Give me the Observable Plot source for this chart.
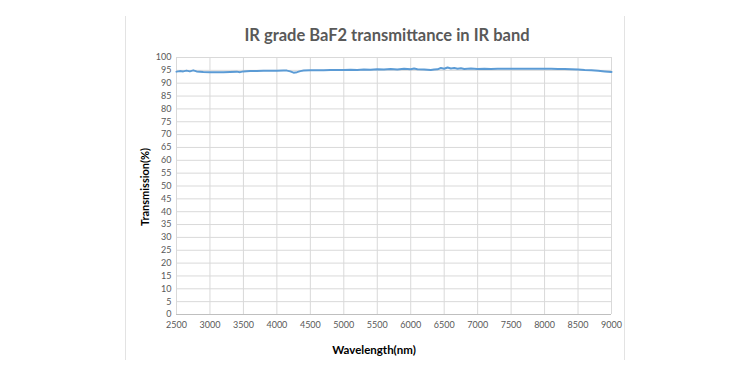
<!DOCTYPE html>
<html>
<head>
<meta charset="utf-8">
<script src="https://cdn.jsdelivr.net/npm/d3@7"></script>
<script src="https://cdn.jsdelivr.net/npm/@observablehq/plot@0.6"></script>
<style>
  html, body { margin: 0; padding: 0; background: #fff; }
  #chart { width: 750px; height: 375px; }
</style>
</head>
<body>
<div id="chart"></div>
<script>
const title = "IR grade BaF2 transmittance in IR band";
const xLabel = "Wavelength(nm)";
const yLabel = "Transmission(%)";

const xTicks = [2500, 3000, 3500, 4000, 4500, 5000, 5500, 6000, 6500, 7000, 7500, 8000, 8500, 9000];
const yTicks = [0, 5, 10, 15, 20, 25, 30, 35, 40, 45, 50, 55, 60, 65, 70, 75, 80, 85, 90, 95, 100];

const wavelength = [2500,2550,2600,2650,2700,2750,2800,2900,3000,3100,3200,3300,3400,3450,3500,3600,3700,3800,3900,4000,4100,4150,4200,4250,4300,4350,4400,4500,4600,4700,4800,4900,5000,5100,5200,5300,5400,5500,5600,5700,5800,5900,6000,6050,6100,6200,6300,6350,6400,6450,6500,6550,6600,6650,6700,6750,6800,6900,7000,7100,7200,7300,7400,7500,7600,7700,7800,7900,8000,8100,8200,8300,8400,8500,8600,8700,8800,8900,9000];
const transmission = [94.5,94.7,94.6,94.9,94.6,95.0,94.6,94.4,94.3,94.3,94.3,94.4,94.5,94.3,94.6,94.7,94.7,94.8,94.8,94.8,94.9,94.9,94.6,94.1,94.3,94.7,94.9,95.0,95.0,95.0,95.1,95.1,95.1,95.2,95.1,95.3,95.2,95.4,95.3,95.5,95.3,95.6,95.4,95.7,95.4,95.3,95.1,95.3,95.4,95.9,95.6,96.1,95.7,95.9,95.6,95.8,95.5,95.7,95.5,95.6,95.5,95.6,95.6,95.6,95.6,95.6,95.6,95.6,95.6,95.6,95.5,95.5,95.4,95.3,95.1,95.0,94.8,94.6,94.4];

const data = wavelength.map((w, i) => ({w, t: transmission[i]}));

const W = 750, H = 375;
const mL = 176, mR = 139, mT = 57, mB = 61;
const fontFam = "Lato, 'Open Sans', sans-serif";
const gray = "#595959";

const plot = Plot.plot({
  width: W, height: H,
  marginLeft: mL, marginRight: mR, marginTop: mT, marginBottom: mB,
  style: {fontFamily: fontFam, fontSize: "9px", color: gray, background: "#fff"},
  x: {domain: [2500, 9000], ticks: xTicks, tickSize: 0, tickPadding: 7, label: null, tickFormat: d => String(d)},
  y: {domain: [0, 100], ticks: yTicks, tickSize: 0, tickPadding: 5, label: null},
  marks: [
    Plot.gridX(xTicks, {stroke: "#d9d9d9", strokeOpacity: 1, strokeWidth: 1}),
    Plot.gridY(yTicks, {stroke: "#d9d9d9", strokeOpacity: 1, strokeWidth: 1}),
    Plot.ruleY([0], {stroke: "#bfbfbf", strokeWidth: 1}),
    Plot.axisX({ticks: xTicks, tickSize: 0, tickPadding: 7, fill: gray, fontSize: 9, label: null, tickFormat: d => String(d)}),
    Plot.axisY({ticks: yTicks, tickSize: 0, tickPadding: 5, fill: gray, fontSize: 9, label: null}),
    Plot.line(data, {x: "w", y: "t", stroke: "#5b9bd5", strokeWidth: 2})
  ]
});

const svg = d3.select(plot);
// outer chart frame lines (left & right)
svg.append("line").attr("x1", 125.5).attr("x2", 125.5).attr("y1", 16).attr("y2", 360).attr("stroke", "#e3e3e3");
svg.append("line").attr("x1", 624.5).attr("x2", 624.5).attr("y1", 16).attr("y2", 360).attr("stroke", "#e3e3e3");

svg.append("text").text(title)
  .attr("x", 387).attr("y", 41)
  .attr("text-anchor", "middle")
  .attr("font-family", fontFam).attr("font-weight", "bold").attr("font-size", 16.5)
  .attr("fill", gray);

svg.append("text").text(xLabel)
  .attr("x", 374).attr("y", 354)
  .attr("text-anchor", "middle")
  .attr("font-family", fontFam).attr("font-weight", "bold").attr("font-size", 11.5)
  .attr("fill", "#000");

svg.append("text").text(yLabel)
  .attr("transform", "translate(149,187) rotate(-90)")
  .attr("text-anchor", "middle")
  .attr("font-family", fontFam).attr("font-weight", "bold").attr("font-size", 11)
  .attr("fill", "#000");

document.getElementById("chart").appendChild(plot);
</script>
</body>
</html>
